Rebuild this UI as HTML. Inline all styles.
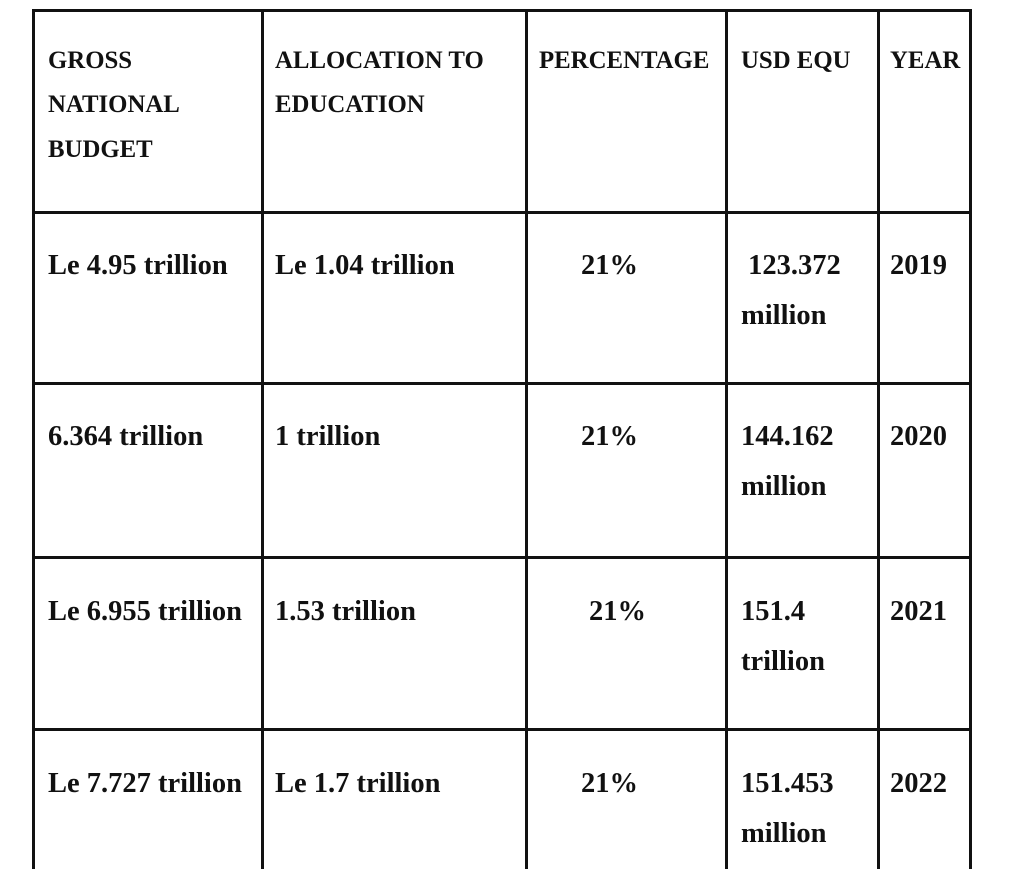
<!DOCTYPE html>
<html>
<head>
<meta charset="utf-8">
<style>
html,body{margin:0;padding:0;background:#fff;}
body{width:1024px;height:859px;position:relative;overflow:hidden;font-family:"Liberation Serif","Times New Roman",serif;font-weight:bold;color:#111;}
.v{position:absolute;top:9px;height:860px;width:3px;background:#111;}
.h{position:absolute;left:32px;width:940px;height:3px;background:#111;}
.t{position:absolute;white-space:pre;}
.hd{font-size:24.8px;line-height:44.5px;}
.bd{font-size:28.5px;line-height:50px;}
</style>
</head>
<body>
<div class="v" style="left:32px"></div>
<div class="v" style="left:261px"></div>
<div class="v" style="left:525px"></div>
<div class="v" style="left:725px"></div>
<div class="v" style="left:877px"></div>
<div class="v" style="left:969px"></div>
<div class="h" style="top:9px"></div>
<div class="h" style="top:211px"></div>
<div class="h" style="top:382px"></div>
<div class="h" style="top:556px"></div>
<div class="h" style="top:728px"></div>

<div class="t hd" style="left:48px;top:38.5px">GROSS<br>NATIONAL<br>BUDGET</div>
<div class="t hd" style="left:275px;top:38.5px">ALLOCATION TO<br>EDUCATION</div>
<div class="t hd" style="left:539px;top:38.5px">PERCENTAGE</div>
<div class="t hd" style="left:741px;top:38.5px">USD EQU</div>
<div class="t hd" style="left:890px;top:38.5px">YEAR</div>

<div class="t bd" style="left:48px;top:240.5px">Le 4.95 trillion</div>
<div class="t bd" style="left:275px;top:240.5px">Le 1.04 trillion</div>
<div class="t bd" style="left:581px;top:240.5px">21%</div>
<div class="t bd" style="left:741px;top:240.5px"> 123.372<br>million</div>
<div class="t bd" style="left:890px;top:240.5px">2019</div>

<div class="t bd" style="left:48px;top:412px">6.364 trillion</div>
<div class="t bd" style="left:275px;top:412px">1 trillion</div>
<div class="t bd" style="left:581px;top:412px">21%</div>
<div class="t bd" style="left:741px;top:412px">144.162<br>million</div>
<div class="t bd" style="left:890px;top:412px">2020</div>

<div class="t bd" style="left:48px;top:587px">Le 6.955 trillion</div>
<div class="t bd" style="left:275px;top:587px">1.53 trillion</div>
<div class="t bd" style="left:589px;top:587px">21%</div>
<div class="t bd" style="left:741px;top:587px">151.4<br>trillion</div>
<div class="t bd" style="left:890px;top:587px">2021</div>

<div class="t bd" style="left:48px;top:758.5px">Le 7.727 trillion</div>
<div class="t bd" style="left:275px;top:758.5px">Le 1.7 trillion</div>
<div class="t bd" style="left:581px;top:758.5px">21%</div>
<div class="t bd" style="left:741px;top:758.5px">151.453<br>million</div>
<div class="t bd" style="left:890px;top:758.5px">2022</div>
</body>
</html>
